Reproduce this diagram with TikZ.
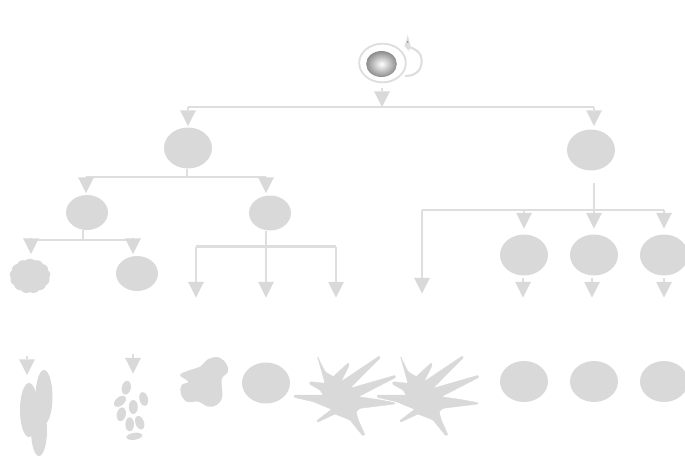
\documentclass[tikz,border=0pt]{standalone}
\usetikzlibrary{arrows.meta,shapes.geometric,shapes.symbols}
\definecolor{cellgray}{HTML}{D9D9D9}
\definecolor{linegray}{HTML}{DEDEDE}
\tikzset{
  x=0.75pt,y=-0.75pt,
  cell/.style={ellipse,fill=cellgray,draw=none,inner sep=0pt,minimum width=#1},
  big/.style={cell=36pt,minimum height=30.75pt},
  mid/.style={cell=31.5pt,minimum height=26.25pt},
  rail/.style={draw=linegray,line width=2pt,line cap=butt},
  busline/.style={draw=linegray,line width=1.6pt,line cap=square},
  thin stem/.style={draw=linegray,line width=0.9pt},
  drop/.style={rail,-{Triangle[width=12pt,length=11.8pt,color=cellgray,line width=0pt]}},
  lobe/.style={fill=cellgray,draw=none},
  pics/branched/.style={code={
    \fill[cellgray,draw=cellgray,line width=0.3pt,line join=round,rounded corners=0.8pt]
      (-62.7,-41)--(-55,-25.3)--(-46.7,-20.3)--(-31.7,-34.3)--(-30.7,-32)--(-39,-15.3)
      --(-0.7,-41)--(0.7,-39.7)--(-30,-8.7)--(15,-21.7)--(16,-19.7)--(-21.7,-0.3)
      --(-3.3,2.3)--(15,5.7)--(15,7)--(-20,11.3)--(-24,14.7)--(-21.7,23)
      --(-15,38)--(-17.3,38.7)--(-30,23)--(-45,17)--(-62.7,25.3)--(-63.3,23.7)
      --(-48.3,12.3)--(-66.7,4.7)--(-86,0.3)--(-86,-2)--(-56.7,-2)--(-60,-7)
      --(-70.7,-13)--(-70,-15.3)--(-55,-13.7)--cycle;
  }},
}
\begin{document}
\begin{tikzpicture}
\useasboundingbox (0,0) rectangle (685,457);

% ancestor with its self-renewal loop
\node[ellipse,draw=linegray,fill=white,line width=1.4pt,inner sep=0pt,
      minimum width=35pt,minimum height=29pt] (root) at (382.5,63) {};
\node[ellipse,inner sep=0pt,minimum width=23pt,minimum height=19.5pt,
      inner color=white,outer color=black!45] (core) at (381.5,64) {};
\coordinate (loopstart) at (405,76);
\coordinate (loopend) at (409,47);
\draw[draw=linegray,line width=1.6pt]
  (loopstart) .. controls (416,76) and (422,70) .. (421.7,60)
  .. controls (421.5,53) and (416,49) .. (loopend);
\fill[linegray] (407.7,35) -- (404.5,46) -- (409,51) -- (410.5,46) -- cycle;
\fill[black!45] (407.7,42) circle (0.8);

% first division
\coordinate (rootbus) at (382,107);
\coordinate (rootstem) at (382,88);
\draw[drop] (rootstem) -- (rootbus);
\node[big] (a) at (188,148) {};
\node[big] (b) at (591,150) {};
\coordinate (aTop) at (188,107);
\coordinate (bTop) at (594,107);
\draw[busline] (aTop) -- (bTop);
\draw[drop] (aTop) -- (188,126);
\draw[drop] (bTop) -- (594,126);

% left lineage
\node[mid] (c) at (87,212.5) {};
\node[mid] (d) at (270,213) {};
\coordinate (abus) at (187,177);
\coordinate (cTop) at (86,177);
\coordinate (dTop) at (266,177);
\draw[thin stem] (abus |- a.south) -- (abus);
\draw[busline] (cTop) -- (dTop);
\draw[drop] (cTop) -- (86,193);
\draw[drop] (dTop) -- (266,193);

\node[cloud,cloud puffs=13,cloud puff arc=85,aspect=1.2,fill=cellgray,draw=none,
      inner sep=0pt,minimum width=30.5pt,minimum height=26pt] (e) at (30,276) {};
\node[mid] (f) at (137,273.5) {};
\coordinate (cbus) at (83,240);
\coordinate (eTop) at (31,240);
\coordinate (fTop) at (133,240);
\draw[thin stem] (cbus |- c.south) -- (cbus);
\draw[busline] (eTop) -- (fTop);
\draw[drop] (eTop) -- (31,254);
\draw[drop] (fTop) -- (133,254);

\coordinate (dbus) at (266,246.5);
\coordinate (g1) at (196,246.5);
\coordinate (g3) at (336,246.5);
\draw[rail] (dbus |- d.south) -- (dbus);
\draw[busline] (g1) -- (g3);
\draw[drop] (g1) -- (196,297.5);
\draw[drop] (dbus) -- (266,297.5);
\draw[drop] (g3) -- (336,297.5);

% right lineage
\node[big] (h1) at (524,255) {};
\node[big] (h2) at (594,255) {};
\node[big] (h3) at (664,255) {};
\coordinate (bbus) at (594,210);
\coordinate (k0) at (422,210);
\coordinate (k1) at (524,210);
\coordinate (k3) at (664,210);
\draw[rail,shorten <=9.4pt] (bbus |- b.south) -- (bbus);
\draw[busline] (k0) -- (k3);
\draw[drop] (k0) -- (422,293.5);
\draw[drop] (k1) -- (524,228.5);
\draw[drop] (bbus) -- (594,228.5);
\draw[drop] (k3) -- (664,228.5);

\coordinate (h1a) at (523,278);
\coordinate (h2a) at (592,278);
\coordinate (h3a) at (664,278);
\draw[drop] (h1a) -- (523,297.5);
\draw[drop] (h2a) -- (592,297.5);
\draw[drop] (h3a) -- (664,297.5);

% stems into the mature forms
\coordinate (e1) at (27,356);
\coordinate (f1) at (133,354);
\draw[drop] (e1) -- (27,375);
\draw[drop] (f1) -- (133,373.5);

% mature forms, bottom row
\fill[lobe] (29,410) ellipse (9 and 27);
\fill[lobe] (44,397) ellipse (8.5 and 27);
\fill[lobe] (39,430) ellipse (8 and 26);

\fill[lobe,rotate around={-12:(126.3,387.7)}] (126.3,387.7) ellipse (4.5 and 7);
\fill[lobe,rotate around={14:(143.7,399)}] (143.7,399) ellipse (4.3 and 7);
\fill[lobe,rotate around={-50:(120,401.3)}] (120,401.3) ellipse (4.3 and 7);
\fill[lobe] (133.3,407) ellipse (4.5 and 7);
\fill[lobe,rotate around={-12:(121.3,414.3)}] (121.3,414.3) ellipse (4.5 and 7);
\fill[lobe] (129.7,424.3) ellipse (4.3 and 7);
\fill[lobe,rotate around={20:(139.7,422.7)}] (139.7,422.7) ellipse (4.3 and 7);
\fill[lobe,rotate around={8:(134.3,436.3)}] (134.3,436.3) ellipse (8 and 3.5);

\fill[lobe] plot[smooth cycle,tension=0.6] coordinates {
  (180,375) (190,370) (200,366.7) (208.3,359) (218.3,357.3) (226,363.3) (228,371.7)
  (221.7,379.3) (222.3,396.7) (216.7,405) (208.3,406.7) (198.3,401.7) (186.7,401.7)
  (180.7,393.3) (181.7,385) (188.3,381.7)};

\node[big] (m) at (266,383) {};
\pic at (380,397) {branched};
\pic at (463,397) {branched};
\node[big] (n1) at (524,381.5) {};
\node[big] (n2) at (594,381.5) {};
\node[big] (n3) at (664,381.5) {};
\end{tikzpicture}
\end{document}
